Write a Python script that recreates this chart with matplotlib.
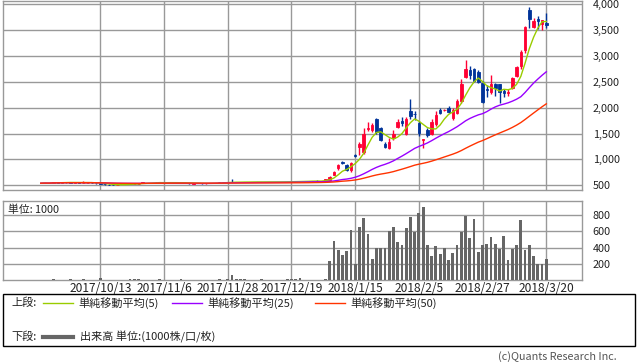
import numpy as np
import pandas as pd
import matplotlib
matplotlib.use('Agg')
import matplotlib.pyplot as plt
from matplotlib.patches import Rectangle
from matplotlib.lines import Line2D

plt.rcParams['font.family'] = ['Noto Sans CJK JP', 'DejaVu Sans']

# 日足データ (2017/9/21 〜 2018/3/20, 120営業日)
open_ = [540, 540, 545, 545, 560, 552, 556, 560, 552, 555,
         550, 552, 553, 550, 535, 525, 515, 505, 505, 520,
         522, 525, 528, 530, 535, 550, 548, 548, 552, 555,
         550, 548, 550, 550, 551, 548, 532, 540, 542, 535,
         538, 540, 560, 558, 556, 565, 560, 566, 566, 567,
         565, 566, 566, 565, 566, 567, 566, 567, 568, 570,
         572, 578, 575, 590, 582, 588, 580, 580, 605, 700,
         830, 955, 890, 800, 1080, 1240, 1150, 1585, 1563, 1788,
         1600, 1308, 1225, 1410, 1630, 1750, 1500, 1940, 1880, 1700,
         1370, 1560, 1500, 1680, 1960, 1950, 2000, 1800, 1900, 2130,
         2600, 2720, 2750, 2700, 2480, 2370, 2300, 2450, 2450, 2330,
         2290, 2380, 2620, 2800, 3120, 3880, 3570, 3720, 3620, 3640]
high = [545, 545, 545, 565, 560, 558, 558, 570, 556, 556,
        580, 555, 555, 552, 538, 528, 518, 508, 510, 525,
        528, 530, 532, 535, 560, 552, 550, 555, 556, 556,
        552, 552, 552, 552, 552, 548, 545, 545, 544, 540,
        542, 548, 562, 562, 565, 620, 565, 568, 568, 568,
        568, 570, 568, 568, 568, 568, 568, 570, 572, 575,
        580, 582, 580, 592, 590, 595, 590, 630, 680, 770,
        920, 970, 920, 960, 1110, 1340, 1600, 1720, 1700, 1800,
        1620, 1330, 1420, 1560, 1780, 1820, 1830, 2170, 1940, 1740,
        1400, 1600, 1780, 1930, 1990, 1975, 2040, 2000, 2170, 2560,
        2920, 2810, 2760, 2720, 2520, 2430, 2640, 2470, 2460, 2370,
        2360, 2600, 2800, 3110, 3580, 3950, 3740, 3770, 3700, 3840]
low = [535, 540, 540, 545, 550, 550, 552, 548, 550, 550,
       550, 550, 550, 530, 520, 515, 500, 500, 500, 518,
       520, 525, 525, 528, 535, 545, 545, 548, 550, 548,
       546, 546, 548, 548, 546, 530, 530, 538, 530, 532,
       535, 538, 556, 556, 556, 555, 558, 560, 562, 562,
       562, 564, 562, 562, 564, 564, 564, 565, 565, 568,
       570, 572, 570, 580, 580, 582, 570, 575, 600, 690,
       800, 915, 780, 760, 1040, 1090, 1110, 1550, 1540, 1500,
       1360, 1220, 1200, 1380, 1600, 1650, 1480, 1790, 1760, 1460,
       1220, 1440, 1480, 1640, 1870, 1930, 1900, 1760, 1880, 2100,
       2570, 2560, 2500, 2480, 2100, 2200, 2270, 2230, 2100, 2200,
       2220, 2360, 2600, 2750, 3060, 3540, 3540, 3530, 3500, 3550]
close = [540, 545, 540, 560, 552, 556, 555, 552, 555, 550,
         552, 553, 550, 535, 525, 520, 505, 502, 505, 522,
         525, 528, 530, 532, 555, 548, 548, 552, 555, 550,
         548, 550, 550, 551, 548, 535, 540, 542, 535, 538,
         540, 545, 558, 556, 562, 560, 562, 564, 565, 564,
         566, 566, 565, 566, 567, 566, 567, 568, 570, 572,
         578, 575, 578, 582, 588, 585, 575, 620, 665, 761,
         890, 923, 794, 923, 1065, 1300, 1500, 1600, 1673, 1530,
         1370, 1231, 1330, 1500, 1730, 1700, 1780, 1840, 1870, 1510,
         1390, 1470, 1720, 1860, 1890, 1965, 1920, 1950, 2130, 2460,
         2750, 2640, 2520, 2500, 2110, 2350, 2460, 2390, 2300, 2280,
         2310, 2580, 2790, 3070, 3560, 3710, 3680, 3670, 3690, 3590]
volume = [2, 0, 3, 18, 2, 3, 2, 20, 3, 2,
          22, 3, 2, 4, 25, 3, 5, 2, 3, 2,
          3, 15, 18, 16, 8, 2, 3, 5, 18, 3,
          2, 3, 2, 15, 4, 3, 2, 3, 2, 3,
          4, 2, 20, 5, 18, 65, 20, 10, 22, 3,
          2, 3, 18, 3, 2, 3, 2, 8, 16, 20,
          16, 32, 5, 4, 5, 6, 5, 16, 237, 481,
          371, 310, 359, 616, 196, 653, 763, 567, 261, 392,
          392, 392, 600, 653, 469, 432, 640, 775, 592, 824,
          898, 432, 298, 420, 322, 396, 249, 335, 432, 592,
          787, 518, 751, 347, 432, 445, 530, 445, 384, 543,
          249, 384, 432, 738, 371, 432, 298, 200, 200, 261]

tick_pos = [14, 29, 44, 59, 74, 89, 104, 119]
tick_labels = ['2017/10/13', '2017/11/6', '2017/11/28', '2017/12/19',
               '2018/1/15', '2018/2/5', '2018/2/27', '2018/3/20']

# 移動平均
s = pd.Series(close, dtype=float)
ma5 = s.rolling(5, min_periods=1).mean()
ma25 = s.rolling(25, min_periods=1).mean()
ma50 = s.rolling(50, min_periods=1).mean()

W, H = 638, 362
def fx(x):
    return x / W
def fy(y):
    return 1 - y / H

RED = '#ff0033'
BLUE = '#003399'
GRID = '#999999'
C5, C25, C50 = '#99cc00', '#9900ff', '#ff3300'
VOL = '#666666'
TXT = '#222222'

fig = plt.figure(figsize=(W / 100, H / 100), dpi=100)
ax1 = fig.add_axes([fx(3.3), fy(190), fx(582.3) - fx(3.3), (190 - 0.5) / H])
ax2 = fig.add_axes([fx(3.3), fy(280.3), fx(582.3) - fx(3.3), (280.3 - 201) / H])

x = np.arange(len(close))
o = np.array(open_)
c = np.array(close)
cols = [RED if c[i] >= o[i] else BLUE for i in range(len(c))]

# ローソク足
ax1.vlines(x, low, high, colors=cols, lw=1, zorder=3)
ax1.bar(x, np.abs(c - o), bottom=np.minimum(o, c), width=0.6,
        color=cols, edgecolor=cols, linewidth=0.6, zorder=3)
ax1.plot(x, ma5, color=C5, lw=1, zorder=4)
ax1.plot(x, ma25, color=C25, lw=1, zorder=4)
ax1.plot(x, ma50, color=C50, lw=1, zorder=4)

# 出来高
ax2.bar(x, volume, width=0.65, color=VOL, zorder=3)

for ax in (ax1, ax2):
    ax.set_xlim(-8.83, 127.47)
    ax.set_xticks(tick_pos)
    ax.grid(True, color=GRID, lw=1, zorder=0)
    ax.set_axisbelow(True)
    for sp in ax.spines.values():
        sp.set_color(GRID)
        sp.set_linewidth(1)
    ax.yaxis.tick_right()
    ax.tick_params(axis='y', length=0, pad=7.5, labelsize=7.8, colors=TXT)
    ax.tick_params(axis='x', length=0)

ax1.set_ylim(409, 4073)
ax1.set_yticks(range(500, 4001, 500))
ax1.set_yticklabels([f'{v:,}' for v in range(500, 4001, 500)])
ax1.set_xticklabels([])

ax2.set_ylim(0, 971)
ax2.set_yticks([200, 400, 600, 800])
ax2.set_xticklabels(tick_labels)
for lab in ax2.get_xticklabels():
    lab.set_x(lab.get_position()[0])
ax2.tick_params(axis='x', pad=1.0, labelsize=8.6, colors=TXT)
ax2.text(0.008, 0.96, '単位: 1000', transform=ax2.transAxes, fontsize=7.8,
         ha='left', va='top', color=TXT)

# 凡例
fig.patches.append(Rectangle((fx(3.3), fy(345.7)), fx(635) - fx(3.3), (345.7 - 294) / H,
                             transform=fig.transFigure, fill=False,
                             edgecolor='black', lw=1))
fig.text(fx(11), fy(303), '上段:', fontsize=8, va='center', ha='left', color=TXT)
fig.text(fx(11), fy(336.5), '下段:', fontsize=8, va='center', ha='left', color=TXT)
legend_items = [(43, C5, '単純移動平均(5)'),
                (172, C25, '単純移動平均(25)'),
                (315, C50, '単純移動平均(50)')]
for x0, col, label in legend_items:
    fig.lines.append(Line2D([fx(x0), fx(x0 + 30)], [fy(303), fy(303)],
                            transform=fig.transFigure, color=col, lw=1))
    fig.text(fx(x0 + 35), fy(303), label, fontsize=8, va='center', ha='left',
             color=TXT)
fig.lines.append(Line2D([fx(43), fx(73)], [fy(336.5), fy(336.5)],
                        transform=fig.transFigure, color=VOL, lw=3))
fig.text(fx(80), fy(336.5), '出来高 単位:(1000株/口/枚)', fontsize=8,
         va='center', ha='left', color=TXT)

fig.text(fx(617), fy(357), '(c)Quants Research Inc.', fontsize=7.8,
         va='center', ha='right', color='#555555')

fig.savefig('out.png', dpi=100)
